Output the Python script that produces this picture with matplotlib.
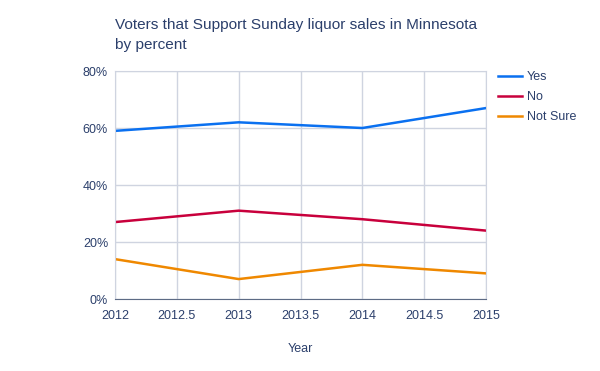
import matplotlib
matplotlib.use("Agg")
import matplotlib.pyplot as plt
from matplotlib.ticker import FuncFormatter

years = [2012, 2013, 2014, 2015]
yes = [59, 62, 60, 67]
no = [27, 31, 28, 24]
not_sure = [14, 7, 12, 9]

series = [("Yes", yes, "#0a70f0"), ("No", no, "#c8003c"), ("Not Sure", not_sure, "#ef8800")]
x_ticks = [2012, 2012.5, 2013, 2013.5, 2014, 2014.5, 2015]
y_ticks = [0, 20, 40, 60, 80]

text_color = "#2b3f6b"
grid_color = "#cfd4e0"

plt.rcParams["font.family"] = ["Liberation Sans", "DejaVu Sans"]

fig = plt.figure(figsize=(6, 3.71), dpi=100)
ax = fig.add_axes([0.1917, 0.194, 0.6183, 0.6146])

for name, vals, color in series:
    ax.plot(years, vals, color=color, linewidth=1.8, label=name, solid_joinstyle="miter")

ax.set_xlim(2012, 2015)
ax.set_ylim(0, 80)
ax.set_xticks(x_ticks)
ax.set_xticklabels([f"{t:g}" for t in x_ticks])
ax.set_yticks(y_ticks)
ax.yaxis.set_major_formatter(FuncFormatter(lambda v, p: f"{v:.0f}%"))
ax.grid(True, color=grid_color, linewidth=1)
ax.set_axisbelow(True)
ax.tick_params(length=0, labelsize=9, colors=text_color)
ax.tick_params(axis="x", pad=8)
ax.tick_params(axis="y", pad=5)

for side in ["top", "right", "left"]:
    ax.spines[side].set_color(grid_color)
ax.spines["bottom"].set_color("#5d6b85")

ax.set_xlabel("Year", fontsize=9, color=text_color, labelpad=15)

fig.text(115 / 600, 1 - 35 / 371, "Voters that Support Sunday liquor sales in Minnesota\nby percent",
         fontsize=11.1, color=text_color, va="center", ha="left", linespacing=1.55)

ax.legend(loc="upper left", bbox_to_anchor=(1.0, 1.055), frameon=False, fontsize=9,
          labelcolor=text_color, handlelength=1.9, handletextpad=0.35, labelspacing=0.65,
          borderaxespad=0.6)

fig.savefig("out.png", dpi=100)
